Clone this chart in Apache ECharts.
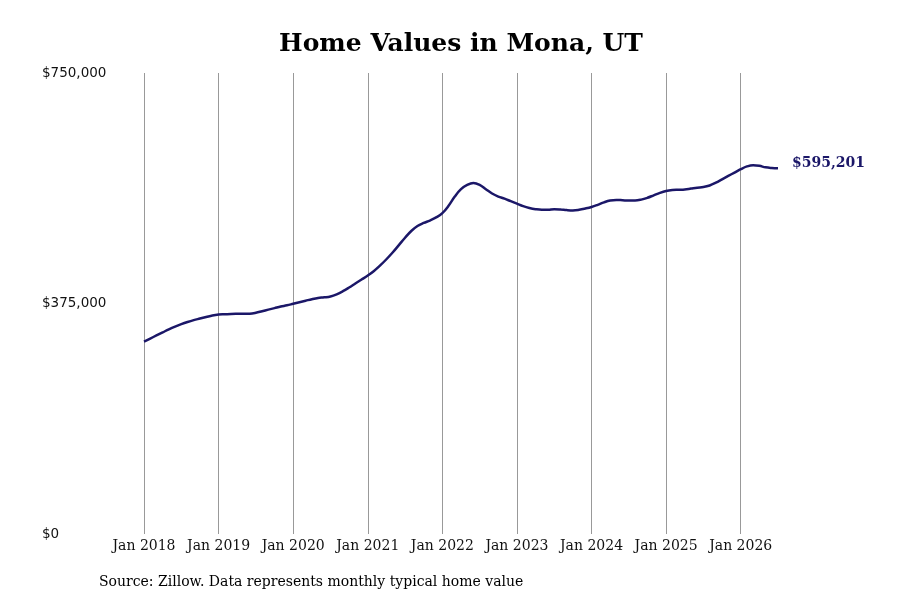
<!DOCTYPE html>
<html>
<head>
<meta charset="utf-8">
<script src="https://cdn.jsdelivr.net/npm/echarts@6/dist/echarts.min.js"></script>
<style>html,body{margin:0;padding:0;background:#fff}#c{width:900px;height:600px}</style>
</head>
<body>
<div id="c"></div>
<script>
var years = [2018, 2019, 2020, 2021, 2022, 2023, 2024, 2025, 2026];
var monthNames = ['Jan','Feb','Mar','Apr','May','Jun','Jul','Aug','Sep','Oct','Nov','Dec'];
var values2018 = [313000, 318000, 323000, 328000, 333000, 337500, 341500, 345000, 348000, 350500, 353000, 355500];
var values2019 = [357000, 357500, 358000, 358200, 358300, 358500, 360000, 362500, 365000, 367500, 370000, 372000];
var values2020 = [374500, 377000, 379500, 382000, 384000, 385000, 386500, 390000, 395000, 401000, 407500, 414000];
var values2021 = [420500, 428000, 437000, 447000, 458000, 470000, 482000, 493000, 501000, 506000, 510000, 515000];
var values2022 = [522000, 534000, 549000, 561000, 568000, 571000, 568000, 561000, 554000, 549000, 545500, 541500];
var values2023 = [537500, 533500, 530500, 528500, 527500, 527500, 528500, 528000, 527000, 526500, 527500, 529500];
var values2024 = [532000, 535500, 539500, 542500, 543500, 543000, 542500, 542500, 544000, 547000, 551000, 555000];
var values2025 = [558000, 559500, 560000, 560500, 562000, 563500, 564500, 567000, 571500, 577000, 582500, 588000];
var values2026 = [593500, 598000, 600000, 599000, 596500, 595500, 595201];
var yTicks = [0, 375000, 750000];

var allValues = [].concat(values2018, values2019, values2020, values2021, values2022, values2023, values2024, values2025, values2026);
var categories = [];
years.forEach(function (y) {
  monthNames.forEach(function (m) { categories.push(m + ' ' + y); });
});
categories = categories.slice(0, allValues.length);

function fmtMoney(v) {
  return '$' + Math.round(v).toString().replace(/\B(?=(\d{3})+(?!\d))/g, ',');
}
function isJan(i) { return i % 12 === 0; }

var chart = echarts.init(document.getElementById('c'));
chart.setOption({
  animation: false,
  backgroundColor: '#fff',
  grid: { left: 144, right: 122, top: 73, bottom: 66, containLabel: false },
  graphic: [
    { type: 'text', x: 461, y: 44,
      style: { text: 'Home Values in Mona, UT', font: 'bold 25px "DejaVu Serif"', fill: '#000', textAlign: 'center', textVerticalAlign: 'middle' } },
    { type: 'text', x: 99, y: 582,
      style: { text: 'Source: Zillow. Data represents monthly typical home value', font: '14px "DejaVu Serif"', fill: '#000', textAlign: 'left', textVerticalAlign: 'middle' } }
  ],
  xAxis: {
    type: 'category',
    data: categories,
    boundaryGap: false,
    axisLine: { show: false },
    axisTick: { show: false },
    axisLabel: { interval: function (i) { return isJan(i); }, fontFamily: 'DejaVu Serif', fontSize: 14, color: '#111', margin: 5 },
    splitLine: { show: true, interval: function (i) { return isJan(i); }, lineStyle: { color: '#999', width: 1 } }
  },
  yAxis: {
    type: 'value',
    min: 0, max: 750000, interval: 375000,
    axisLine: { show: false },
    axisTick: { show: false },
    splitLine: { show: false },
    axisLabel: { formatter: function (v) { return yTicks.indexOf(v) >= 0 ? fmtMoney(v) : ''; }, align: 'left', margin: 102, fontFamily: 'DejaVu Sans', fontSize: 13.5, color: '#111' }
  },
  series: [{
    type: 'line',
    data: allValues,
    smooth: 0.4,
    showSymbol: false,
    symbol: 'none',
    lineStyle: { color: '#1b1768', width: 2.5 },
    endLabel: { show: true, formatter: function (p) { return fmtMoney(p.value); }, distance: 14, fontFamily: 'DejaVu Serif', fontWeight: 'bold', fontSize: 14, color: '#1b1768', offset: [0, -5] }
  }]
});
</script>
</body>
</html>
